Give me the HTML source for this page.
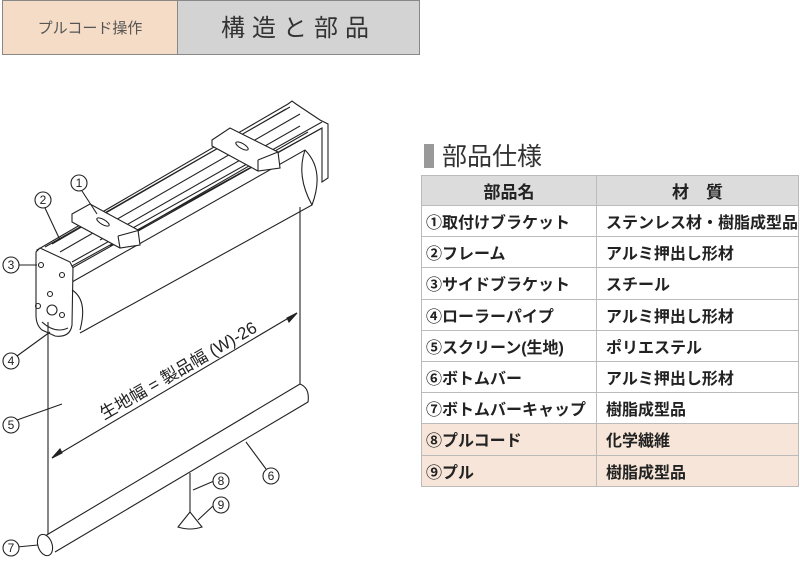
<!DOCTYPE html>
<html><head><meta charset="utf-8">
<style>
html,body{margin:0;padding:0;background:#fff;}
body{width:800px;height:562px;position:relative;overflow:hidden;font-family:"Liberation Sans","Noto Sans CJK JP",sans-serif;}
.tab1{position:absolute;left:2px;top:0;width:176px;height:55px;background:#f5dcc6;border:1px solid #888;box-sizing:border-box;font-size:15px;color:#555;line-height:55px;text-align:center;}
.tab2{position:absolute;left:178px;top:0;width:242px;height:55px;background:#d3d3d3;border:1px solid #888;border-left:none;box-sizing:border-box;font-size:24px;color:#333;line-height:55px;text-align:center;letter-spacing:7px;}
.ttl{position:absolute;left:424px;top:137px;font-size:25px;color:#333;}
.ttl span{display:inline-block;width:10px;height:24px;background:#999;vertical-align:-3px;margin-right:8px;}
table{position:absolute;left:421px;top:175px;border-collapse:collapse;font-size:16px;font-weight:bold;color:#222;}
td{border:1px solid #bbb;height:31.2px;padding:0 0 0 9px;box-sizing:border-box;white-space:nowrap;}
td:first-child{width:175px;padding-left:4px;}
td:last-child{width:202px;}
tr.h td{background:#dcdcdc;text-align:center;font-size:17px;padding:0;height:30px;}
tr.p td{background:#f6e5d8;}
</style></head><body>
<div class="tab1">プルコード操作</div>
<div class="tab2">構造と部品</div>
<div class="ttl"><span></span>部品仕様</div>
<table>
<tr class="h"><td>部品名</td><td>材　質</td></tr>
<tr><td>①取付けブラケット</td><td>ステンレス材・樹脂成型品</td></tr>
<tr><td>②フレーム</td><td>アルミ押出し形材</td></tr>
<tr><td>③サイドブラケット</td><td>スチール</td></tr>
<tr><td>④ローラーパイプ</td><td>アルミ押出し形材</td></tr>
<tr><td>⑤スクリーン(生地)</td><td>ポリエステル</td></tr>
<tr><td>⑥ボトムバー</td><td>アルミ押出し形材</td></tr>
<tr><td>⑦ボトムバーキャップ</td><td>樹脂成型品</td></tr>
<tr class="p"><td>⑧プルコード</td><td>化学繊維</td></tr>
<tr class="p"><td>⑨プル</td><td>樹脂成型品</td></tr>
</table>
<svg width="420" height="562" style="position:absolute;left:0;top:0" fill="none" stroke="#222" stroke-width="1.1" font-family="Liberation Sans,Noto Sans CJK JP,sans-serif">
<path d="M72,282 L305,150 Q325,170 312,205 L80,333" fill="#fff"/>
<path d="M305,150 Q296,176 312,205"/>
<path d="M37,250 L288,104 L292,101 L296,104 L320,120 L328,124 L328,178 L322,182 L322,128 L72,266 Z" fill="#fff"/>
<path d="M45,247 L290,107 M60,252 L300,114 M72,262 L322,122 M72,268 L322,128 M52,244 L286,109 M100,240 L300,126 M110,246 L308,132"/>
<path d="M72,214 L90,204 L138,230 L140,245 L120,248 L72,222 Z" fill="#fff"/>
<path d="M118,236 L140,230 M120,248 L118,236"/>
<ellipse cx="103" cy="222" rx="7" ry="2.5" transform="rotate(30 103 222)"/>
<path d="M212,140 L230,128 L278,152 L280,168 L258,171 L212,146 Z" fill="#fff"/>
<path d="M258,160 L278,152 M258,171 L258,160"/>
<ellipse cx="242" cy="146" rx="7" ry="2.5" transform="rotate(30 242 146)"/>
<path d="M36,252 L40,248 L70,262 L73,268 L72,325 Q70,338 55,336 L42,330 Q36,325 36,315 Z" fill="#fff"/>
<circle cx="41" cy="265" r="2.5"/><circle cx="62" cy="275" r="2.5"/><circle cx="50" cy="294" r="2.5"/>
<circle cx="38" cy="306" r="2.5"/><circle cx="52" cy="310" r="5"/><circle cx="62" cy="315" r="2.5"/>
<path d="M42,322 Q55,334 68,328"/>
<path d="M72,290 Q88,300 80,330"/>
<path d="M48,322 L48,540 M300,207 L300,385"/>
<path d="M45,536 L300,384 Q310,388 308,402 L55,552" fill="#fff"/>
<ellipse cx="45" cy="545" rx="7" ry="11" transform="rotate(-20 45 545)" fill="#fff"/>
<path d="M52,458 L297,313"/>
<path d="M52,458 L60,449 L62,453 Z M297,313 L289,322 L287,318 Z" fill="#222"/>
<text x="0" y="0" transform="translate(104,420) rotate(-30)" font-size="17" fill="#222" stroke="none">生地幅 = 製品幅 (W)-26</text>
<path d="M190,473 L190,512"/>
<path d="M190,512 L178,527 Q190,531 202,527 Z" fill="#fff"/>
<path d="M82,191 L97,214 M45,208 L60,240 M18,265 L37,265 M17,356 L50,332 M17,420 L62,404 M266,469 L246,442 M17,547 L38,545 M214,481 L193,490 M214,505 L198,520"/>
<g fill="#fff">
<circle cx="79" cy="183" r="8"/><circle cx="43" cy="200" r="8"/><circle cx="11" cy="265" r="8"/>
<circle cx="11" cy="361" r="8"/><circle cx="11" cy="425" r="8"/><circle cx="271" cy="476" r="8"/>
<circle cx="11" cy="548" r="8"/><circle cx="221" cy="481" r="8"/><circle cx="221" cy="505" r="8"/>
</g>
<g font-size="12" fill="#222" stroke="none" text-anchor="middle">
<text x="79" y="187">1</text><text x="43" y="204">2</text><text x="11" y="269">3</text>
<text x="11" y="365">4</text><text x="11" y="429">5</text><text x="271" y="480">6</text>
<text x="11" y="552">7</text><text x="221" y="485">8</text><text x="221" y="509">9</text>
</g>
</svg>
</body></html>
